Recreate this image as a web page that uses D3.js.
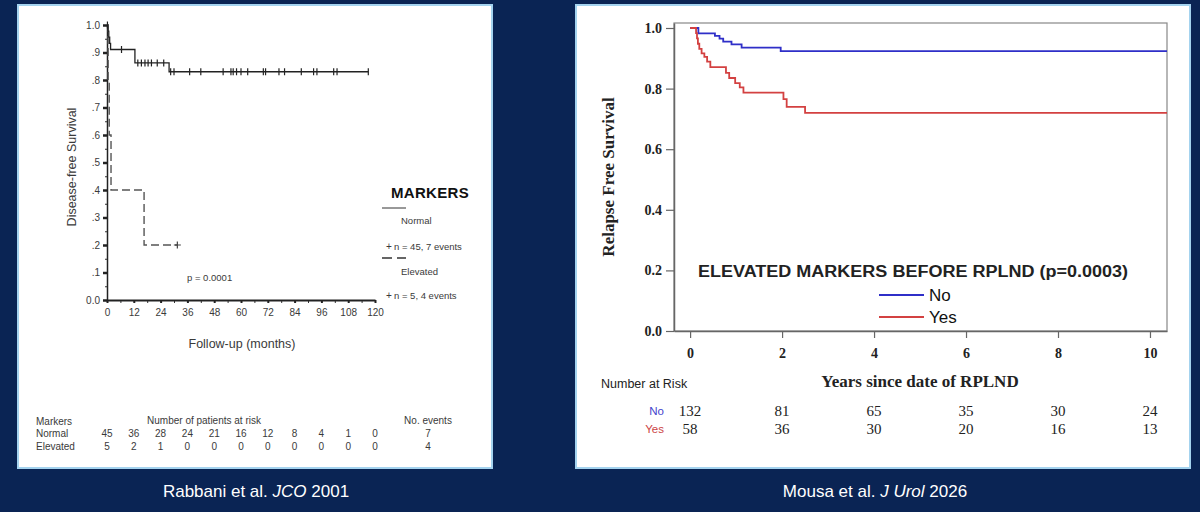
<!DOCTYPE html>
<html>
<head>
<meta charset="utf-8">
<script src="https://cdn.jsdelivr.net/npm/d3@7"></script>
<style>
  html, body { margin: 0; padding: 0; background: #0a2454; }
  svg { display: block; }
  text { font-family: "Liberation Sans", Arial, sans-serif; }
  .serif { font-family: "Liberation Serif", "Times New Roman", serif; }
  .lt { fill: #3a3a3a; }
</style>
</head>
<body>
<svg id="chart" width="1200" height="512"></svg>
<script>
// ---- left study (Rabbani et al.) ----
const leftMonths = [0, 12, 24, 36, 48, 60, 72, 84, 96, 108, 120];
const leftYValues = [0, 0.1, 0.2, 0.3, 0.4, 0.5, 0.6, 0.7, 0.8, 0.9, 1.0];
const leftYLabels = ["0.0", ".1", ".2", ".3", ".4", ".5", ".6", ".7", ".8", ".9", "1.0"];

// [month, survival]
const normalSteps = [[0, 1], [0.4, 0.978], [0.8, 0.956], [1.2, 0.933], [1.6, 0.911], [12.5, 0.862], [27.8, 0.83]];
const normalEnd = 117;
const normalCensored = [0.2, 6.5, 13.8, 15.4, 17, 18.4, 19.9, 22.5, 25.4,
  28.5, 30, 37, 42, 52, 55.5, 56.5, 58, 60, 63, 70, 71, 77, 79.5, 87, 92.5, 94, 101.5, 103, 117];
const elevatedSteps = [[0, 1], [0.5, 0.8], [1.0, 0.6], [1.8, 0.4], [16.6, 0.2]];
const elevatedEnd = 31.5;
const elevatedCensored = [31.5];

const riskNormal = [45, 36, 28, 24, 21, 16, 12, 8, 4, 1, 0];
const riskElevated = [5, 2, 1, 0, 0, 0, 0, 0, 0, 0, 0];
const eventsLeft = [7, 4];

// ---- right study (Mousa et al.) ----
const rightYears = [0, 2, 4, 6, 8, 10];
const rightYValues = [0, 0.2, 0.4, 0.6, 0.8, 1.0];
// [years, survival]
const noSteps = [[0, 1], [0.18, 0.982], [0.54, 0.974], [0.64, 0.965], [0.72, 0.955], [0.9, 0.946], [1.12, 0.935], [1.97, 0.924]];
const yesSteps = [[0, 1], [0.13, 0.983], [0.15, 0.966], [0.17, 0.948], [0.2, 0.931], [0.25, 0.916], [0.31, 0.905],
  [0.37, 0.889], [0.44, 0.871], [0.78, 0.852], [0.85, 0.835], [0.98, 0.818], [1.08, 0.804], [1.16, 0.787],
  [2.03, 0.765], [2.1, 0.74], [2.5, 0.72]];
const riskNo = [132, 81, 65, 35, 30, 24];
const riskYes = [58, 36, 30, 20, 16, 13];

const svg = d3.select("svg#chart");

// panels
svg.append("rect").attr("x", 18).attr("y", 5).attr("width", 474).attr("height", 463)
  .attr("fill", "#fff").attr("stroke", "#a4d3ef").attr("stroke-width", 2);
svg.append("rect").attr("x", 576).attr("y", 5).attr("width", 614).attr("height", 463)
  .attr("fill", "#fff").attr("stroke", "#a4d3ef").attr("stroke-width", 2);

// captions
const caption = (x, parts) => {
  const t = svg.append("text").attr("x", x).attr("y", 497).attr("text-anchor", "middle")
    .attr("fill", "#fff").attr("font-size", 17);
  parts.forEach(([s, italic]) => t.append("tspan").attr("font-style", italic ? "italic" : null).text(s));
};
caption(256, [["Rabbani et al. ", false], ["JCO", true], [" 2001", false]]);
caption(875, [["Mousa et al. ", false], ["J Urol", true], [" 2026", false]]);

// step path helper: extends the last value to the end time
const stepPath = (steps, end, x, y) =>
  d3.line().curve(d3.curveStepAfter).x((d) => x(d[0])).y((d) => y(d[1]))(
    steps.concat([[end, steps[steps.length - 1][1]]]));
const survivalAt = (steps, t) => {
  let s = steps[0][1];
  for (const [ti, si] of steps) if (ti <= t) s = si;
  return s;
};

// ================= LEFT CHART =================
const xL = d3.scaleLinear().domain([0, 120]).range([107, 375]);
const yL = d3.scaleLinear().domain([0, 1]).range([300, 25]);
const left = svg.append("g");

// minor ticks
left.append("g").attr("transform", `translate(0,${yL(0)})`)
  .call(d3.axisBottom(xL).tickValues(d3.range(6, 120, 12)).tickSize(3).tickFormat(""))
  .call((g) => g.select(".domain").remove())
  .selectAll("line").attr("stroke", "#333");
left.append("g").attr("transform", `translate(${xL(0)},0)`)
  .call(d3.axisLeft(yL).tickValues(d3.range(0.05, 1, 0.1)).tickSize(2).tickFormat(""))
  .call((g) => g.select(".domain").remove())
  .selectAll("line").attr("stroke", "#333");

const axL = left.append("g").attr("transform", `translate(0,${yL(0)})`)
  .call(d3.axisBottom(xL).tickValues(leftMonths).tickSize(3).tickSizeOuter(0).tickPadding(6));
axL.select(".domain").attr("stroke", "#222").attr("stroke-width", 2);
axL.selectAll("line").attr("stroke", "#222").attr("stroke-width", 2);
axL.selectAll("text").attr("font-size", 10).attr("class", "lt").attr("font-family", "Liberation Sans, Arial");

const ayL = left.append("g").attr("transform", `translate(${xL(0)},0)`)
  .call(d3.axisLeft(yL).tickValues(leftYValues).tickSize(4).tickSizeOuter(0).tickPadding(3)
    .tickFormat((d, i) => leftYLabels[i]));
ayL.select(".domain").attr("stroke", "#222").attr("stroke-width", 1.5);
ayL.selectAll("line").attr("stroke", "#222").attr("stroke-width", 2.5);
ayL.selectAll("text").attr("font-size", 10).attr("class", "lt").attr("font-family", "Liberation Sans, Arial");

left.append("text").attr("class", "lt").attr("x", 242).attr("y", 348).attr("text-anchor", "middle")
  .attr("font-size", 12.5).text("Follow-up (months)");
left.append("text").attr("class", "lt").attr("transform", "translate(76,167) rotate(-90)").attr("text-anchor", "middle")
  .attr("font-size", 12.5).text("Disease-free Survival");

// curves
left.append("path").attr("d", stepPath(elevatedSteps, elevatedEnd, xL, yL))
  .attr("fill", "none").attr("stroke", "#555").attr("stroke-width", 1.4).attr("stroke-dasharray", "8,4");
left.append("path").attr("d", stepPath(normalSteps, normalEnd, xL, yL))
  .attr("fill", "none").attr("stroke", "#222").attr("stroke-width", 1.3);
left.selectAll("line.cn").data(normalCensored).join("line").attr("class", "cn")
  .attr("x1", (d) => xL(d)).attr("x2", (d) => xL(d))
  .attr("y1", (d) => yL(survivalAt(normalSteps, d)) - 3.5)
  .attr("y2", (d) => yL(survivalAt(normalSteps, d)) + 3.5)
  .attr("stroke", "#222").attr("stroke-width", 1.2);
elevatedCensored.forEach((t) => {
  const cx = xL(t), cy = yL(survivalAt(elevatedSteps, t));
  left.append("path").attr("d", `M${cx - 3.5},${cy}H${cx + 3.5}M${cx},${cy - 3.5}V${cy + 3.5}`)
    .attr("stroke", "#444").attr("stroke-width", 1.2);
});

left.append("text").attr("class", "lt").attr("x", 187).attr("y", 281).attr("font-size", 9.5).text("p = 0.0001");

// legend
left.append("text").attr("x", 391).attr("y", 198).attr("font-size", 15).attr("font-weight", "bold")
  .attr("fill", "#111").attr("letter-spacing", 0.3).text("MARKERS");
left.append("line").attr("x1", 382).attr("x2", 406).attr("y1", 208).attr("y2", 208)
  .attr("stroke", "#333").attr("stroke-width", 1);
left.append("text").attr("class", "lt").attr("x", 401).attr("y", 224).attr("font-size", 9.5).text("Normal");
left.append("text").attr("class", "lt").attr("x", 386).attr("y", 250).attr("font-size", 10).text("+");
left.append("text").attr("class", "lt").attr("x", 394).attr("y", 250).attr("font-size", 9.5).text("n = 45, 7 events");
left.append("line").attr("x1", 382).attr("x2", 406).attr("y1", 258).attr("y2", 258)
  .attr("stroke", "#333").attr("stroke-width", 1.3).attr("stroke-dasharray", "10,5");
left.append("text").attr("class", "lt").attr("x", 401).attr("y", 275).attr("font-size", 9.5).text("Elevated");
left.append("text").attr("class", "lt").attr("x", 386).attr("y", 299).attr("font-size", 10).text("+");
left.append("text").attr("class", "lt").attr("x", 394).attr("y", 299).attr("font-size", 9.5).text("n = 5, 4 events");

// number at risk table
const riskL = left.append("g").attr("font-size", 10);
riskL.append("text").attr("class", "lt").attr("x", 36).attr("y", 425).text("Markers");
riskL.append("text").attr("class", "lt").attr("x", 36).attr("y", 437).text("Normal");
riskL.append("text").attr("class", "lt").attr("x", 36).attr("y", 450).text("Elevated");
riskL.append("text").attr("class", "lt").attr("x", 204).attr("y", 424).attr("text-anchor", "middle").text("Number of patients at risk");
riskL.append("text").attr("class", "lt").attr("x", 428).attr("y", 424).attr("text-anchor", "middle").text("No. events");
[riskNormal, riskElevated].forEach((row, r) => {
  riskL.selectAll(null).data(row).join("text").attr("class", "lt")
    .attr("x", (d, i) => xL(leftMonths[i])).attr("y", 437 + r * 13)
    .attr("text-anchor", "middle").text((d) => d);
  riskL.append("text").attr("class", "lt").attr("x", 428).attr("y", 437 + r * 13)
    .attr("text-anchor", "middle").text(eventsLeft[r]);
});

// ================= RIGHT CHART =================
const xR = d3.scaleLinear().domain([-0.35, 10.37]).range([674, 1167]);
const yR = d3.scaleLinear().domain([0, 1.0165]).range([331, 23]);
const right = svg.append("g");

right.append("rect").attr("x", 674).attr("y", 23).attr("width", 1167 - 674).attr("height", 331 - 23)
  .attr("fill", "none").attr("stroke", "#888").attr("stroke-width", 1.2);

const ayR = right.append("g").attr("transform", "translate(674,0)")
  .call(d3.axisLeft(yR).tickValues(rightYValues).tickSize(8).tickSizeOuter(0).tickPadding(4)
    .tickFormat(d3.format(".1f")));
ayR.select(".domain").attr("stroke", "#666").attr("stroke-width", 1.5);
ayR.selectAll("line").attr("stroke", "#666").attr("stroke-width", 1.2);
ayR.selectAll("text").attr("class", "serif").attr("font-size", 14).attr("font-weight", "bold").attr("fill", "#222");

const axR = right.append("g").attr("transform", "translate(0,331)")
  .call(d3.axisBottom(xR).tickValues(rightYears).tickSize(7).tickSizeOuter(0).tickPadding(10));
axR.select(".domain").attr("stroke", "#666").attr("stroke-width", 1.5);
axR.selectAll("line").attr("stroke", "#666").attr("stroke-width", 1.2);
axR.selectAll("text").attr("class", "serif").attr("font-size", 14).attr("font-weight", "bold").attr("fill", "#222");

right.append("text").attr("class", "serif").attr("x", 920).attr("y", 387).attr("text-anchor", "middle")
  .attr("font-size", 17).attr("font-weight", "bold").attr("fill", "#222").text("Years since date of RPLND");
right.append("text").attr("class", "serif").attr("transform", "translate(614,177) rotate(-90)")
  .attr("text-anchor", "middle").attr("font-size", 17).attr("font-weight", "bold").attr("fill", "#222")
  .text("Relapse Free Survival");

const curveEnd = xR.domain()[1];
right.append("path").attr("d", stepPath(noSteps, curveEnd, xR, yR))
  .attr("fill", "none").attr("stroke", "#2f2fc8").attr("stroke-width", 1.8);
right.append("path").attr("d", stepPath(yesSteps, curveEnd, xR, yR))
  .attr("fill", "none").attr("stroke", "#d34141").attr("stroke-width", 1.8);

// legend
right.append("text").attr("x", 913).attr("y", 277).attr("text-anchor", "middle")
  .attr("font-size", 16).attr("font-weight", "bold").attr("fill", "#222")
  .attr("textLength", 430).attr("lengthAdjust", "spacingAndGlyphs")
  .text("ELEVATED MARKERS BEFORE RPLND (p=0.0003)");
[["No", "#2f2fc8", 295], ["Yes", "#d34141", 317]].forEach(([label, color, ly]) => {
  right.append("line").attr("x1", 879).attr("x2", 924).attr("y1", ly).attr("y2", ly)
    .attr("stroke", color).attr("stroke-width", 1.8);
  right.append("text").attr("x", 929).attr("y", ly + 6).attr("font-size", 17).attr("fill", "#111").text(label);
});

// number at risk
right.append("text").attr("x", 601).attr("y", 388).attr("font-size", 12.5).attr("fill", "#222").text("Number at Risk");
[["No", "#4444cc", riskNo, 416], ["Yes", "#cc4444", riskYes, 434]].forEach(([label, color, row, ry]) => {
  right.append("text").attr("x", 664).attr("y", ry - 1).attr("text-anchor", "end")
    .attr("font-size", 11.5).attr("fill", color).text(label);
  right.selectAll(null).data(row).join("text").attr("class", "serif")
    .attr("x", (d, i) => xR(rightYears[i])).attr("y", ry)
    .attr("text-anchor", "middle").attr("font-size", 15).attr("fill", "#222").text((d) => d);
});
</script>
</body>
</html>
